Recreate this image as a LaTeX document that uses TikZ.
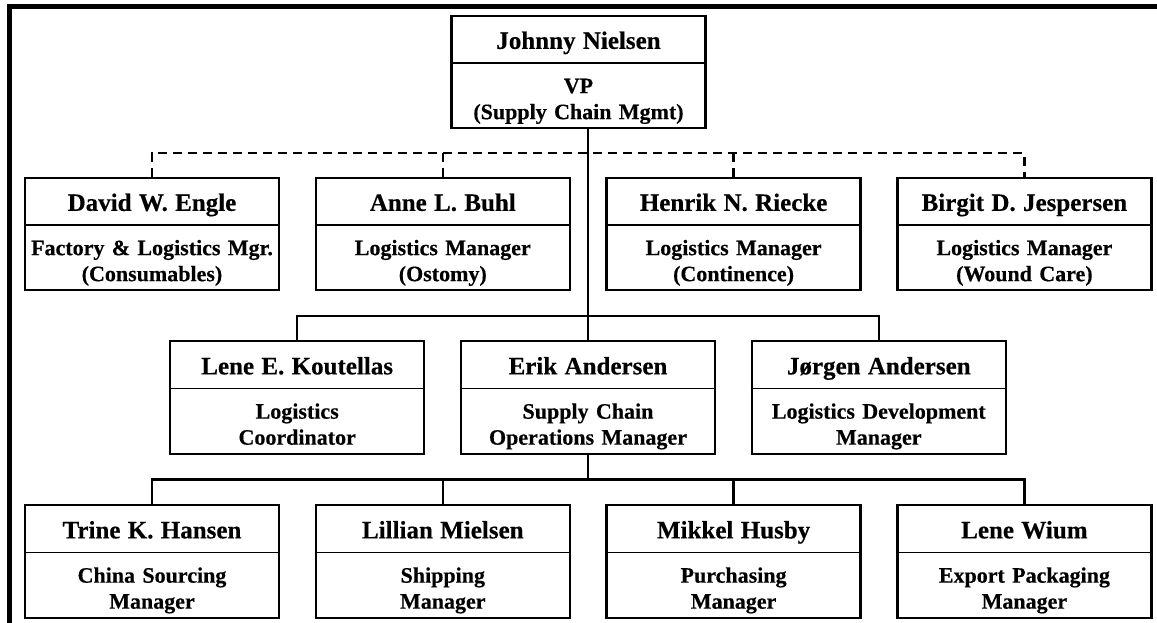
\documentclass[tikz,border=0pt]{standalone}
\usepackage{fontspec}
\setmainfont{Liberation Serif}[BoldFeatures={FakeBold=0.4}]
\usetikzlibrary{shapes, positioning, calc}
% name line and two-line job title of a box
\newcommand{\who}[1]{{\fontsize{25}{30}\selectfont\rule[-13pt]{0pt}{45pt}#1}}
\newcommand{\job}[2]{\rule{0pt}{29pt}#1\\#2\rule[-8pt]{0pt}{0pt}}

\begin{document}
\begin{tikzpicture}[
			x=1pt, y=-1pt,
			node distance=34.5pt,
			box/.style={rectangle split, rectangle split parts=2, rectangle split draw splits=false,
				draw, line width=2.3pt, text width=246pt, inner xsep=4pt, inner ysep=0pt,
				align=center, font=\fontsize{22}{26}\bfseries\selectfont},
			split/.style={line width=1.3pt},
			line/.style={line width=2.3pt},
			dashline/.style={line, dash pattern=on 9pt off 6pt}
			]
			\useasboundingbox (0,0) rectangle (1157,623);
			\draw[line width=5pt] (9.5,623) -- (9.5,6.5) -- (1157,6.5);
			
			\node[box] (nielsen) at (578.5,72) {\who{Johnny Nielsen}\nodepart{two}\job{VP}{(Supply Chain Mgmt)}};
			
			\node[box] (engle) at (152,234) {\who{David W. Engle}\nodepart{two}\job{Factory \& Logistics Mgr.}{(Consumables)}};
			\node[box, right=of engle] (buhl) {\who{Anne L. Buhl}\nodepart{two}\job{Logistics Manager}{(Ostomy)}};
			\node[box, right=of buhl] (riecke) {\who{Henrik N. Riecke}\nodepart{two}\job{Logistics Manager}{(Continence)}};
			\node[box, right=of riecke] (jespersen) {\who{Birgit D. Jespersen}\nodepart{two}\job{Logistics Manager}{(Wound Care)}};
			
			\node[box] (eandersen) at (588,397.5) {\who{Erik Andersen}\nodepart{two}\job{Supply Chain}{Operations Manager}};
			\node[box, left=of eandersen] (koutellas) {\who{Lene E. Koutellas}\nodepart{two}\job{Logistics}{Coordinator}};
			\node[box, right=of eandersen] (jandersen) {\who{Jørgen Andersen}\nodepart{two}\job{Logistics Development}{Manager}};
			
			\node[box] (hansen) at (152,561.5) {\who{Trine K. Hansen}\nodepart{two}\job{China Sourcing}{Manager}};
			\node[box, right=of hansen] (mielsen) {\who{Lillian Mielsen}\nodepart{two}\job{Shipping}{Manager}};
			\node[box, right=of mielsen] (husby) {\who{Mikkel Husby}\nodepart{two}\job{Purchasing}{Manager}};
			\node[box, right=of husby] (wium) {\who{Lene Wium}\nodepart{two}\job{Export Packaging}{Manager}};
			
			\foreach \n in {nielsen, engle, buhl, riecke, jespersen, koutellas, eandersen, jandersen, hansen, mielsen, husby, wium}
				\draw[split] (\n.text split west) -- (\n.text split east);
			
			% bus lines
			\coordinate (dbus) at ($(nielsen.south)!.5!(engle.north)$);
			\coordinate (mbus) at ($(engle.south)!.5!(eandersen.north)$);
			\coordinate (lbus) at ($(eandersen.south)!.5!(hansen.north)$);
			
			\draw[dashline] (engle.north) -- (engle.north |- dbus) -- (jespersen.north |- dbus) -- (jespersen.north);
			\draw[dashline] (buhl.north) -- (buhl.north |- dbus);
			\draw[dashline] (riecke.north) -- (riecke.north |- dbus);
			
			\draw[line] (nielsen.south -| eandersen.north) -- (eandersen.north);
			\draw[line] (koutellas.north) -- (koutellas.north |- mbus) -- (jandersen.north |- mbus) -- (jandersen.north);
			
			\draw[line] (eandersen.south) -- (eandersen.south |- lbus);
			\draw[line] (hansen.north) -- (hansen.north |- lbus) -- (wium.north |- lbus) -- (wium.north);
			\draw[line] (mielsen.north) -- (mielsen.north |- lbus);
			\draw[line] (husby.north) -- (husby.north |- lbus);
		\end{tikzpicture}
\end{document}
